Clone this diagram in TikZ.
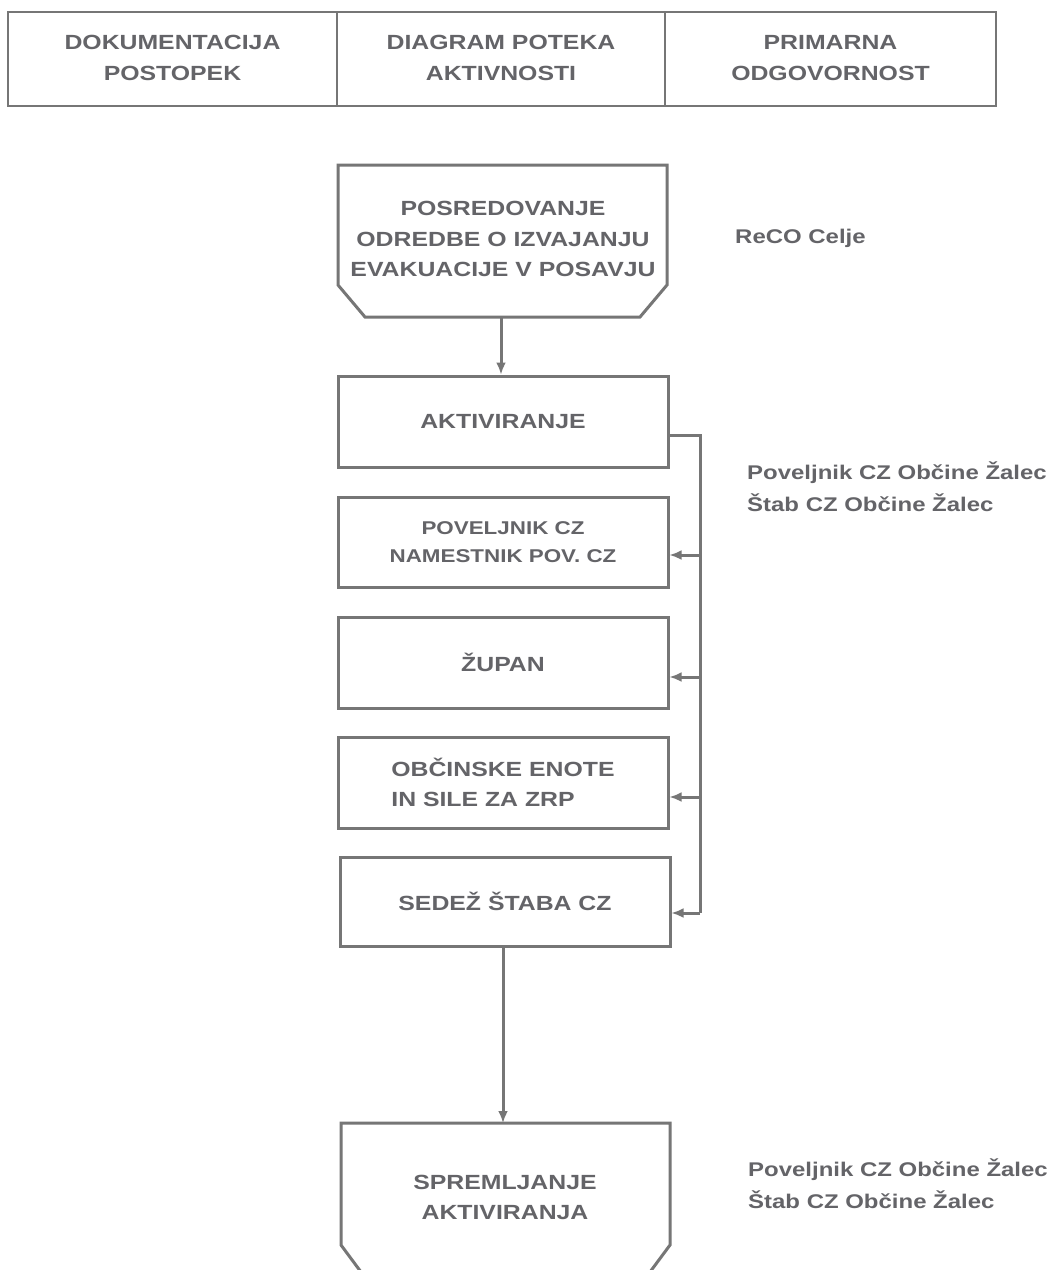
\documentclass[tikz,border=0pt]{standalone}
\usepackage{fontspec}
\setmainfont{Liberation Sans}[FakeStretch=1.21,UprightFont=*-Bold]
\usetikzlibrary{arrows.meta}
\definecolor{linec}{RGB}{118,118,118}
\definecolor{txtc}{RGB}{100,100,104}
\tikzset{
  box/.style={draw=linec, line width=3pt, minimum width=330pt, minimum height=90pt, inner sep=0pt, align=center, text=txtc, font=\fontsize{20.5}{30.5}\selectfont},
  lbl/.style={text=txtc, align=center, inner sep=0pt, font=\fontsize{20.5}{31}\selectfont},
  rlbl/.style={text=txtc, align=left, inner sep=0pt, anchor=west, font=\fontsize{19.8}{32.5}\selectfont},
  conn/.style={draw=linec, line width=3pt},
  arr/.style={conn, -{Latex[length=12pt,width=10pt]}},
  frame/.style={draw=linec, line width=2.6pt}
}
\begin{document}
\begin{tikzpicture}[x=1pt,y=-1pt]
\path[use as bounding box, fill=white] (0,0) rectangle (1051,1270);
\clip (0,0) rectangle (1051,1270);
% header
\node[frame, minimum width=329pt, minimum height=94pt, inner sep=0pt] (h1) at (172.5,59) {};
\node[frame, minimum width=328pt, minimum height=94pt, inner sep=0pt] (h2) at (501,59) {};
\node[frame, minimum width=331pt, minimum height=94pt, inner sep=0pt] (h3) at (830.5,59) {};
\node[lbl] (h1t) at (172.5,58) {DOKUMENTACIJA\\POSTOPEK};
\node[lbl] (h2t) at (501,58) {DIAGRAM POTEKA\\AKTIVNOSTI};
\node[lbl] (h3t) at (830.5,58) {PRIMARNA\\ODGOVORNOST};
% first chamfered box
\node[lbl, font=\fontsize{20.5}{30.5}\selectfont] (p1) at (503,239) {POSREDOVANJE\\ODREDBE O IZVAJANJU\\EVAKUACIJE V POSAVJU};
\draw[conn] (338,165) -- (667,165) -- (667,285) -- (640,317) -- (365,317) -- (338,285) -- cycle;
\coordinate (p1b) at (501,317);
% boxes
\node[box, minimum height=91pt] (akt) at (503,421.5) {AKTIVIRANJE};
\node[box, font=\fontsize{18.5}{28}\selectfont] (pov) at (503,542) {POVELJNIK CZ\\NAMESTNIK POV. CZ};
\node[box, minimum height=91pt] (zup) at (503,662.5) {ŽUPAN};
\node[box, minimum height=91pt, align=left] (obc) at (503,782.5) {OBČINSKE ENOTE\\IN SILE ZA ZRP};
\node[box, minimum height=89pt] (sed) at (505,901.5) {SEDEŽ ŠTABA CZ};
% last chamfered box
\node[lbl, font=\fontsize{20.5}{30}\selectfont] (spr) at (505,1197) {SPREMLJANJE\\AKTIVIRANJA};
\draw[conn] (341,1123) -- (670,1123) -- (670,1245) -- (650,1272) -- (361,1272) -- (341,1245) -- cycle;
\coordinate (sprt) at (503,1123);
% connectors
\draw[arr] (p1b) -- (akt.north -| p1b);
\coordinate (bt) at (700,435);
\coordinate (a2) at (700,555);
\coordinate (a3) at (700,677);
\coordinate (a4) at (700,797);
\coordinate (bb) at (700,913);
\draw[conn] (akt.east |- bt) -- (bt) -- (bb);
\draw[arr] (a2) -- (a2 -| pov.east);
\draw[arr] (a3) -- (a3 -| zup.east);
\draw[arr] (a4) -- (a4 -| obc.east);
\draw[arr] (bt |- bb) -- (bb -| sed.east);
\draw[arr] (sed.south -| sprt) -- (sprt);
% responsibilities
\node[rlbl] (r1) at (735,238) {ReCO Celje};
\node[rlbl] (r2) at (747,486.5) {Poveljnik CZ Občine Žalec\\Štab CZ Občine Žalec};
\node[rlbl] (r3) at (748,1183.5) {Poveljnik CZ Občine Žalec\\Štab CZ Občine Žalec};
\end{tikzpicture}
\end{document}
